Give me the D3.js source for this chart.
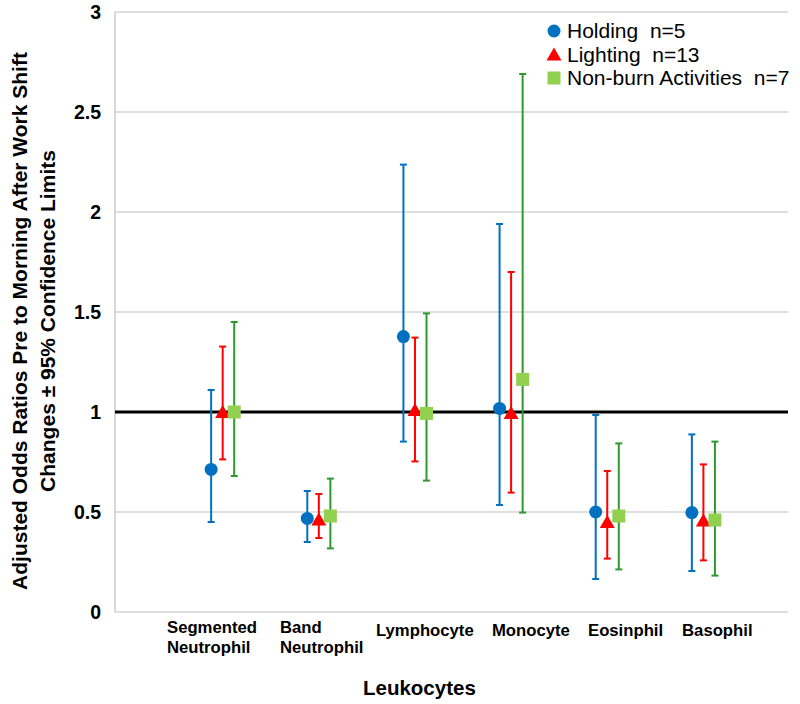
<!DOCTYPE html>
<html><head><meta charset="utf-8">
<script src="https://cdn.jsdelivr.net/npm/d3@7"></script>
<style>body{margin:0;background:#fff}svg{display:block}text{font-family:Arial,"Liberation Sans",sans-serif}</style>
</head><body>
<svg id="c" width="800" height="704"></svg>
<script>
const categories = ["Segmented Neutrophil","Band Neutrophil","Lymphocyte","Monocyte","Eosinphil","Basophil"];
const categoryLines = [["Segmented","Neutrophil"],["Band","Neutrophil"],["Lymphocyte"],["Monocyte"],["Eosinphil"],["Basophil"]];
const seriesNames = ["Holding  n=5","Lighting  n=13","Non-burn Activities  n=7"];
const holdingOR   = [0.713,0.468,1.377,1.018,0.500,0.497];
const holdingLo   = [0.450,0.350,0.852,0.535,0.165,0.205];
const holdingHi   = [1.110,0.605,2.237,1.940,0.985,0.888];
const lightingOR  = [1.000,0.463,1.010,0.995,0.450,0.457];
const lightingLo  = [0.763,0.370,0.753,0.597,0.267,0.258];
const lightingHi  = [1.327,0.590,1.372,1.700,0.705,0.738];
const nonburnOR   = [1.000,0.480,0.993,1.163,0.480,0.460];
const nonburnLo   = [0.680,0.318,0.657,0.497,0.213,0.182];
const nonburnHi   = [1.450,0.667,1.493,2.690,0.843,0.852];
const yTicks = [0,0.5,1,1.5,2,2.5,3];
const seriesOffset = [0,0.12,0.24];
const labelLeft = [0.541,1.716,2.715,3.921,4.920,5.898];

const svg = d3.select("#c");
const x = d3.scaleLinear().domain([0,7]).range([115,788]);
const y = d3.scaleLinear().domain([0,3]).range([612,12]);

// gridlines
svg.append("g").selectAll("line").data(yTicks).join("line")
  .attr("x1",x(0)).attr("x2",x(7)).attr("y1",d=>y(d)).attr("y2",d=>y(d))
  .attr("stroke","#BFBFBF").attr("stroke-width",1.2);
// left axis line
svg.append("line").attr("x1",x(0)).attr("x2",x(0)).attr("y1",y(0)).attr("y2",y(3))
  .attr("stroke","#BFBFBF").attr("stroke-width",1.2);
// reference line at 1
svg.append("line").attr("x1",x(0)).attr("x2",x(7)).attr("y1",y(1)).attr("y2",y(1))
  .attr("stroke","#000").attr("stroke-width",3);

// y axis tick labels
const yAxis = d3.axisLeft(y).tickValues(yTicks).tickSize(0).tickPadding(14).tickFormat(d3.format("~g"));
const ya = svg.append("g").attr("transform",`translate(${x(0)},0)`).call(yAxis);
ya.select(".domain").remove();
ya.selectAll("text").attr("font-size",19.5).attr("font-weight","bold").attr("fill","#000")
  .attr("font-family",'Arial,"Liberation Sans",sans-serif');

// category labels
categoryLines.forEach((lines,i)=>{
  const t = svg.append("text").attr("x",x(labelLeft[i])).attr("font-size",16.7).attr("font-weight","bold");
  if(lines.length===2){
    t.append("tspan").attr("x",x(labelLeft[i])).attr("y",633).text(lines[0]);
    t.append("tspan").attr("x",x(labelLeft[i])).attr("y",653).text(lines[1]);
  } else {
    t.attr("y",636).text(lines[0]);
  }
});

// axis titles
svg.append("text").attr("x",363).attr("y",695).attr("font-size",20.5).attr("font-weight","bold").text("Leukocytes");
const yt = svg.append("text").attr("transform","translate(0,321) rotate(-90)").attr("text-anchor","middle")
  .attr("font-size",21).attr("font-weight","bold");
yt.append("tspan").attr("x",0).attr("y",27).text("Adjusted Odds Ratios Pre to Morning After Work Shift");
yt.append("tspan").attr("x",0).attr("y",55).text("Changes \u00B1 95% Confidence Limits");

const series = [
  {or:holdingOR, lo:holdingLo, hi:holdingHi, bar:"#0070C0", fill:"#0070C0", shape:"circle"},
  {or:lightingOR, lo:lightingLo, hi:lightingHi, bar:"#FF0000", fill:"#FF0000", shape:"triangle"},
  {or:nonburnOR, lo:nonburnLo, hi:nonburnHi, bar:"#2E9A2E", fill:"#92D050", shape:"square"}
];

function drawMarker(g, shape, cx, cy, color){
  if(shape==="circle") g.append("circle").attr("cx",cx).attr("cy",cy).attr("r",6.5).attr("fill",color);
  else if(shape==="triangle") g.append("path").attr("d",`M${cx},${cy-7}L${cx+7.5},${cy+6}L${cx-7.5},${cy+6}Z`).attr("fill",color);
  else g.append("rect").attr("x",cx-6.5).attr("y",cy-6.5).attr("width",13).attr("height",13).attr("fill",color);
}

series.forEach((s,si)=>{
  const g = svg.append("g");
  categories.forEach((c,i)=>{
    const cx = x(i+1+seriesOffset[si]);
    g.append("line").attr("x1",cx).attr("x2",cx).attr("y1",y(s.lo[i])).attr("y2",y(s.hi[i]))
      .attr("stroke",s.bar).attr("stroke-width",2);
    [s.lo[i],s.hi[i]].forEach(v=>{
      g.append("line").attr("x1",cx-3.5).attr("x2",cx+3.5).attr("y1",y(v)).attr("y2",y(v))
        .attr("stroke",s.bar).attr("stroke-width",2);
    });
  });
});
series.forEach((s,si)=>{
  const g = svg.append("g");
  categories.forEach((c,i)=>{
    drawMarker(g, s.shape, x(i+1+seriesOffset[si]), y(s.or[i]), s.fill);
  });
});

// legend
const lg = svg.append("g");
series.forEach((s,si)=>{
  const ly = 31 + si*23.5;
  drawMarker(lg, s.shape, 554, ly, s.fill);
  lg.append("text").attr("x",567).attr("y",ly+7).attr("font-size",21).text(seriesNames[si]).style("white-space","pre").attr("xml:space","preserve");
});
</script>
</body></html>
